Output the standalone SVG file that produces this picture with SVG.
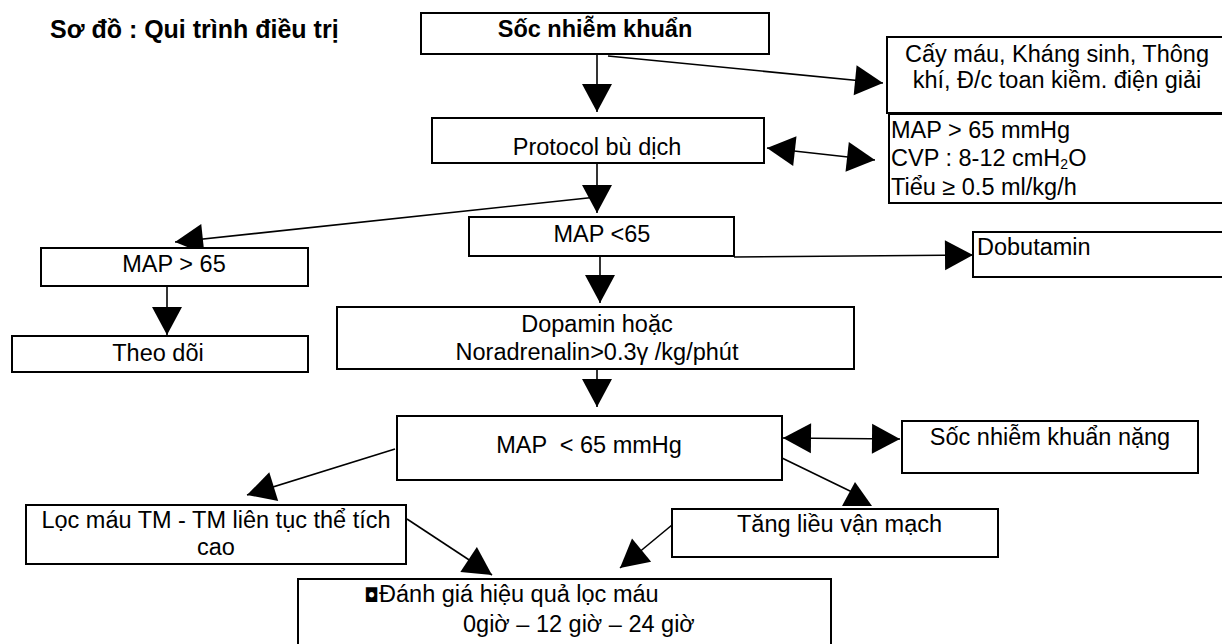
<svg xmlns="http://www.w3.org/2000/svg" width="1222" height="644" viewBox="0 0 1222 644">
<defs>
<style>
.box{fill:#fff;stroke:#000;stroke-width:2}
.t{font-family:"Liberation Sans",Arial,sans-serif;font-size:23.5px;fill:#000}
.c{text-anchor:middle}
.b{font-weight:bold}
.ln{fill:none;stroke:#000;stroke-width:1.6}
.ah{fill:#000}
</style>
<marker id="arr" markerUnits="userSpaceOnUse" markerWidth="28" markerHeight="30" refX="28" refY="15" orient="auto-start-reverse" overflow="visible">
<path d="M0,0 L28,15 L0,30 z" fill="#000"/>
</marker>
</defs>
<rect width="1222" height="644" fill="#fff"/>
<text class="t b" x="50" y="38" style="font-size:25px">Sơ đồ : Qui trình điều trị</text>

<g id="connectors">
<line class="ln" x1="597" y1="54" x2="597" y2="112" marker-end="url(#arr)"/>
<line class="ln" x1="608" y1="56" x2="883" y2="83" marker-end="url(#arr)"/>
<line class="ln" x1="767" y1="148" x2="875" y2="160" marker-start="url(#arr)" marker-end="url(#arr)"/>
<line class="ln" x1="597" y1="163" x2="597" y2="213" marker-end="url(#arr)"/>
<line class="ln" x1="597" y1="197" x2="175" y2="242" marker-end="url(#arr)"/>
<line class="ln" x1="167" y1="286" x2="167" y2="335" marker-end="url(#arr)"/>
<line class="ln" x1="734" y1="257" x2="973" y2="255" marker-end="url(#arr)"/>
<line class="ln" x1="600" y1="256" x2="600" y2="303" marker-end="url(#arr)"/>
<line class="ln" x1="597" y1="369" x2="597" y2="407" marker-end="url(#arr)"/>
<line class="ln" x1="783" y1="438" x2="900" y2="439" marker-start="url(#arr)" marker-end="url(#arr)"/>
<line class="ln" x1="782" y1="458" x2="852" y2="492"/>
<polygon class="ah" points="855,482 842,506 872,506"/>
<line class="ln" x1="395" y1="449" x2="247" y2="495" marker-end="url(#arr)"/>
<line class="ln" x1="407" y1="519" x2="492" y2="575" marker-end="url(#arr)"/>
<line class="ln" x1="672" y1="525" x2="620" y2="568" marker-end="url(#arr)"/>
</g>

<g id="n-soc">
<rect class="box" x="421" y="13" width="348" height="41"/>
<text class="t c b" x="595" y="37">Sốc nhiễm khuẩn</text>
</g>
<g id="n-caymau">
<rect class="box" x="887" y="37" width="345" height="76"/>
<text class="t c" x="1057" y="62">Cấy máu, Kháng sinh, Thông</text>
<text class="t c" x="1057" y="88">khí, Đ/c toan kiềm. điện giải</text>
</g>
<g id="n-protocol">
<rect class="box" x="432" y="118" width="332" height="45"/>
<text class="t c" x="597" y="155">Protocol bù dịch</text>
</g>
<g id="n-target">
<rect class="box" x="889" y="114" width="345" height="89"/>
<text class="t" x="891" y="138">MAP &gt; 65 mmHg</text>
<text class="t" x="891" y="166">CVP : 8-12 cmH<tspan font-size="14" dy="3">2</tspan><tspan dy="-3">O</tspan></text>
<text class="t" x="891" y="195">Tiểu ≥ 0.5 ml/kg/h</text>
</g>
<g id="n-map-gt">
<rect class="box" x="41" y="248" width="267" height="38"/>
<text class="t c" x="174" y="272">MAP &gt; 65</text>
</g>
<g id="n-theodoi">
<rect class="box" x="12" y="336" width="296" height="36"/>
<text class="t c" x="158" y="361">Theo dõi</text>
</g>
<g id="n-map-lt">
<rect class="box" x="469" y="217" width="265" height="39"/>
<text class="t c" x="602" y="242">MAP &lt;65</text>
</g>
<g id="n-dobutamin">
<rect class="box" x="973" y="232" width="260" height="45"/>
<text class="t" x="977" y="255">Dobutamin</text>
</g>
<g id="n-dopamin">
<rect class="box" x="337" y="307" width="517" height="62"/>
<text class="t c" x="597" y="332">Dopamin hoặc</text>
<text class="t c" x="597" y="360">Noradrenalin&gt;0.3γ /kg/phút</text>
</g>
<g id="n-map-mmhg">
<rect class="box" x="397" y="416" width="385" height="64"/>
<text class="t c" x="589" y="453" style="white-space:pre">MAP  &lt; 65 mmHg</text>
</g>
<g id="n-socnang">
<rect class="box" x="902" y="421" width="296" height="52"/>
<text class="t c" x="1050" y="445">Sốc nhiễm khuẩn nặng</text>
</g>
<g id="n-locmau">
<rect class="box" x="26" y="505" width="380" height="59"/>
<text class="t c" x="216" y="528">Lọc máu TM - TM liên tục thể tích</text>
<text class="t c" x="216" y="555">cao</text>
</g>
<g id="n-tanglieu">
<rect class="box" x="672" y="509" width="326" height="48"/>
<text class="t" x="737" y="532">Tăng liều vận mạch</text>
</g>
<g id="n-danhgia">
<rect class="box" x="298" y="579" width="533" height="80"/>
<text class="t" x="364" y="602"><tspan font-family="DejaVu Sans" font-size="19">◘</tspan>Đánh giá hiệu quả lọc máu</text>
<text class="t" x="463" y="632">0giờ – 12 giờ – 24 giờ</text>
</g>
</svg>
